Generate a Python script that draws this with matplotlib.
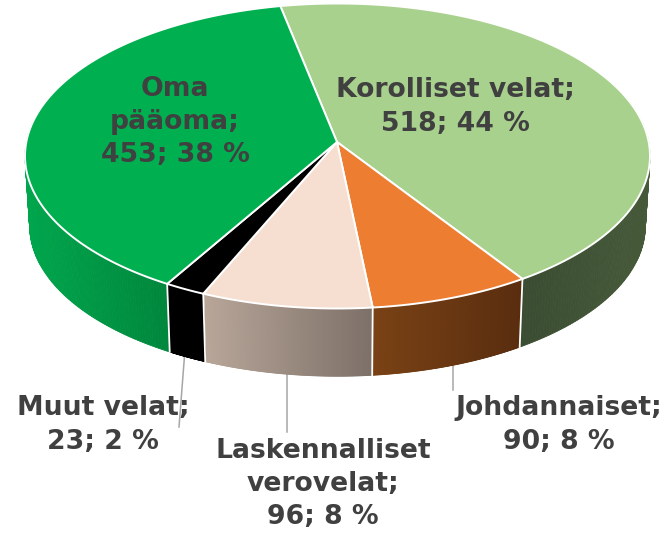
import numpy as np
import matplotlib
matplotlib.use("Agg")
import matplotlib.pyplot as plt
from matplotlib.colors import to_rgb

# Data, clockwise from the top
names = ["Korolliset velat", "Johdannaiset", "Laskennalliset verovelat", "Muut velat", "Oma pääoma"]
amounts = [518, 90, 96, 23, 453]
labels = ["Korolliset velat;\n518; 44 %", "Johdannaiset;\n90; 8 %", "Laskennalliset\nverovelat;\n96; 8 %",
          "Muut velat;\n23; 2 %", "Oma\npääoma;\n453; 38 %"]
top_colors = ["#A9D18E", "#ED7D31", "#F6DFD0", "#000000", "#00B050"]
wall_left = ["#3A4C31", "#7A4215", "#B8A699", "#000000", "#00A64C"]
wall_right = ["#465A3A", "#592D0F", "#7D7068", "#000000", "#00863C"]

start = -11.5
cx, cy, rx, ry = 337.5, 156, 312.5, 152.5
apex = np.array([337.0, 142.0])
depth = 70
shrink = 0.985
k = ry / rx

fig = plt.figure(figsize=(6.66, 5.34), dpi=100)
ax = fig.add_axes([0, 0, 1, 1])
ax.set_xlim(0, 666); ax.set_ylim(534, 0); ax.axis("off")


def rim(t):
    """Perspective disc: ray from the off-centre apex meets the ellipse."""
    r = np.radians(np.asarray(t, dtype=float))
    dx, dy = np.sin(r), -k * np.cos(r)
    px, py = (apex[0] - cx) / rx, (apex[1] - cy) / ry
    ux, uy = dx / rx, dy / ry
    a = ux**2 + uy**2
    b = 2 * (px * ux + py * uy)
    c = px**2 + py**2 - 1
    s = (-b + np.sqrt(b**2 - 4 * a * c)) / (2 * a)
    return apex[0] + s * dx, apex[1] + s * dy


def lower(xs, ys):
    return cx + (xs - cx) * shrink, cy + depth + (ys - cy) * shrink


edges = start + np.concatenate([[0], np.cumsum(amounts)]) / np.sum(amounts) * 360

# walls
for a0, a1, cl, cr in zip(edges[:-1], edges[1:], wall_left, wall_right):
    ts = np.linspace(a0, a1, 240)
    xs, ys = rim(ts)
    keep = np.mod(ts, 360) >= 80
    keep &= np.mod(ts, 360) <= 280
    xs, ys = xs[keep], ys[keep]
    if len(xs) < 2:
        continue
    bx, by = lower(xs, ys)
    lo, hi = min(xs.min(), bx.min()), max(xs.max(), bx.max())
    c0, c1 = np.array(to_rgb(cl)), np.array(to_rgb(cr))
    for i in range(len(xs) - 1):
        f = np.clip((abs(xs[i] + xs[i + 1]) / 2 - lo) / max(hi - lo, 1), 0, 1)
        col = c0 + (c1 - c0) * f
        ax.fill([xs[i], xs[i + 1], bx[i + 1], bx[i]],
                [ys[i], ys[i + 1], by[i + 1], by[i]],
                color=col, lw=0.6, zorder=2)

# wall separators
for a in edges[1:-1]:
    if 90 <= np.mod(a, 360) <= 270:
        x, y = rim(a)
        bx, by = lower(x, y)
        ax.plot([x, bx], [y, by], color="white", lw=1.3, zorder=3)

# tops
for a0, a1, c in zip(edges[:-1], edges[1:], top_colors):
    ts = np.linspace(a0, a1, 240)
    xs, ys = rim(ts)
    ax.fill(np.r_[apex[0], xs], np.r_[apex[1], ys], facecolor=c, edgecolor="white",
            lw=1.4, zorder=4, joinstyle="round")

# leader lines
ax.plot([453, 453], [364, 390], color="#A6A6A6", lw=1.1, zorder=1)
ax.plot([286.5, 286.5], [374, 432], color="#A6A6A6", lw=1.1, zorder=1)
ax.plot([184.5, 179], [356, 427], color="#A6A6A6", lw=1.1, zorder=1)

font = dict(family="DejaVu Sans", fontsize=19.2, fontweight="bold", color="#404040",
            ha="center", va="center", linespacing=1.36, zorder=6)
pos = [(455, 107), (559, 425), (323, 484), (103, 425), (175, 122)]
for (x, y), s in zip(pos, labels):
    ax.text(x, y, s, **font)

fig.savefig("out.png", dpi=100)
